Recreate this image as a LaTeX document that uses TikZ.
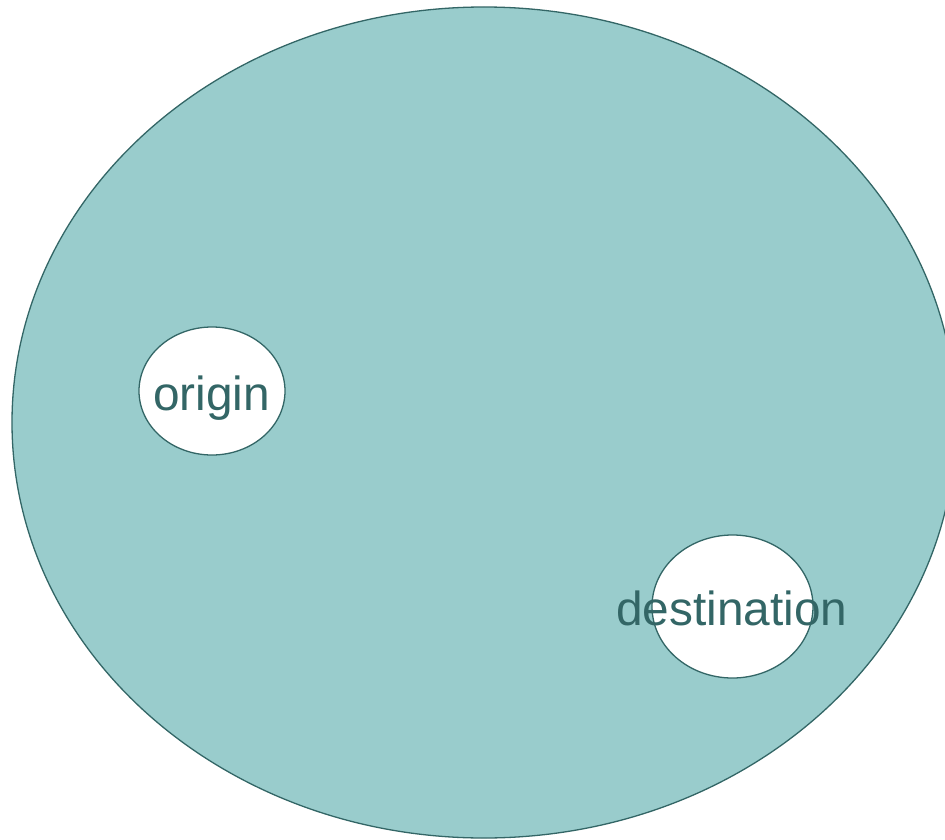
\documentclass[tikz,border=0pt]{standalone}
\usepackage{fontspec}
\setmainfont{Liberation Sans}
\usetikzlibrary{shapes.geometric}
\definecolor{tealfill}{HTML}{99CCCC}
\definecolor{tealline}{HTML}{336666}
\tikzset{
  region/.style={ellipse, draw=tealline, line width=1.3pt, inner sep=0pt},
  label/.style={text=tealline, font=\fontsize{47.8}{47.8}\selectfont, inner sep=0pt, anchor=base}
}
\begin{document}
\begin{tikzpicture}[x=1pt,y=-1pt]
\clip (0,0) rectangle (945,840);
\fill[white] (0,0) rectangle (945,840);
\node[region, fill=tealfill, minimum width=944, minimum height=831] (world) at (484,422.5) {};
\node[region, fill=white, minimum width=146, minimum height=128] (orig) at (212,391) {};
\node[region, fill=white, minimum width=161, minimum height=143] (dest) at (732.5,606.5) {};
\node[label] (origtext) at (211.5,410) {origin};
\node[label] (desttext) at (732,625) {destination};
\end{tikzpicture}
\end{document}
